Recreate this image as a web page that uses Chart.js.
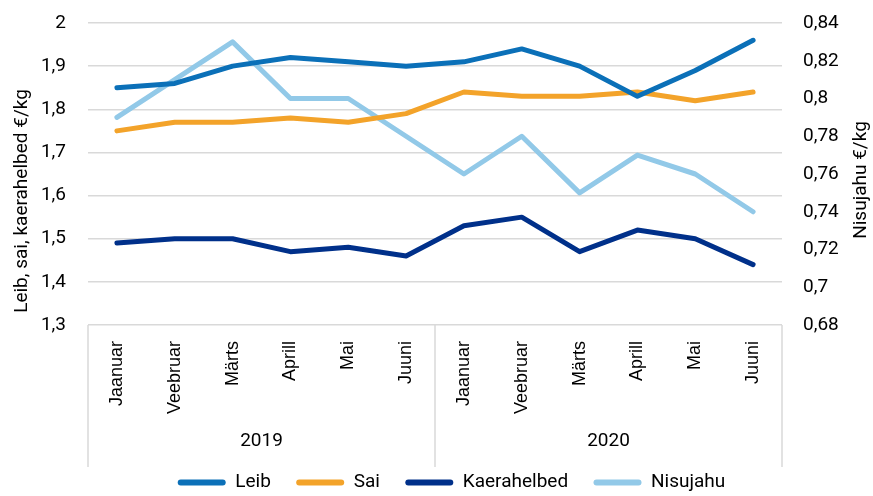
<!DOCTYPE html>
<html>
<head>
<meta charset="utf-8">
<script src="https://cdn.jsdelivr.net/npm/chart.js@4.4.1/dist/chart.umd.min.js"></script>
<style>
  html, body { margin: 0; padding: 0; background: #fff; }
  #wrap { width: 873px; height: 496px; }
</style>
</head>
<body>
<div id="wrap"><canvas id="chart" width="873" height="496"></canvas></div>
<script>
// categories
const months = ['Jaanuar', 'Veebruar', 'Märts', 'Aprill', 'Mai', 'Juuni',
                'Jaanuar', 'Veebruar', 'Märts', 'Aprill', 'Mai', 'Juuni'];
const years = ['2019', '2020'];

// series (€/kg)
const leib = [1.85, 1.86, 1.90, 1.92, 1.91, 1.90, 1.91, 1.94, 1.90, 1.83, 1.89, 1.96];
const sai = [1.75, 1.77, 1.77, 1.78, 1.77, 1.79, 1.84, 1.83, 1.83, 1.84, 1.82, 1.84];
const kaerahelbed = [1.49, 1.50, 1.50, 1.47, 1.48, 1.46, 1.53, 1.55, 1.47, 1.52, 1.50, 1.44];
const nisujahu = [0.79, 0.81, 0.83, 0.80, 0.80, 0.78, 0.76, 0.78, 0.75, 0.77, 0.76, 0.74];

const leftTitle = 'Leib, sai, kaerahelbed €/kg';
const rightTitle = 'Nisujahu €/kg';

const narrow = "Roboto, sans-serif";
const fontSize = 19;

function comma(v, dec) {
    const m = Math.pow(10, dec);
    return String(Math.round(v * m) / m).replace('.', ',');
}

// separators for the two-level category axis + both axis titles (read bottom to top)
const extras = {
    id: 'extras',
    beforeInit(chart) {
        const fit = chart.legend.fit;
        chart.legend.fit = function() {
            fit.call(this);
            this.height -= 6;
        };
    },
    afterLayout(chart) {
        // legend row sits a bit right of centre in the original
        chart.legend.left += 30;
    },
    afterDraw(chart) {
        const ctx = chart.ctx;
        const area = chart.chartArea;
        const x = chart.scales.x;
        const x2 = chart.scales.x2;
        const mid = (x.getPixelForValue(5) + x.getPixelForValue(6)) / 2;
        ctx.save();
        ctx.strokeStyle = '#d9d9d9';
        ctx.lineWidth = 1.5;
        [area.left, mid, area.right].forEach(function(px) {
            ctx.beginPath();
            ctx.moveTo(px, area.bottom);
            ctx.lineTo(px, x2.bottom);
            ctx.stroke();
        });

        ctx.fillStyle = '#000';
        ctx.font = fontSize + 'px ' + narrow;
        ctx.textAlign = 'center';
        ctx.textBaseline = 'middle';
        ctx.save();
        ctx.translate(22, 201);
        ctx.rotate(-Math.PI / 2);
        ctx.fillText(leftTitle, 0, 0);
        ctx.restore();
        ctx.save();
        ctx.translate(861, 180);
        ctx.rotate(-Math.PI / 2);
        ctx.fillText(rightTitle, 0, 0);
        ctx.restore();
        ctx.restore();
    }
};

function ds(label, data, color, axis) {
    return {
        label: label,
        data: data,
        borderColor: color,
        backgroundColor: color,
        borderWidth: 5,
        pointRadius: 0,
        tension: 0,
        borderCapStyle: 'round',
        borderJoinStyle: 'round',
        yAxisID: axis
    };
}

function fixY(width) {
    return function(s) {
        s.width = width;
        s.paddingTop = 0;
        s.paddingBottom = 0;
    };
}

new Chart('chart', {
    type: 'line',
    data: {
        labels: months,
        datasets: [
            ds('Leib', leib, '#0b70b8', 'y'),
            ds('Sai', sai, '#f3a32a', 'y'),
            ds('Kaerahelbed', kaerahelbed, '#00308a', 'y'),
            ds('Nisujahu', nisujahu, '#92c9e8', 'y2')
        ]
    },
    options: {
        responsive: false,
        animation: false,
        layout: { padding: { top: 23, left: 0, right: 0, bottom: 0 } },
        plugins: {
            legend: {
                position: 'bottom',
                labels: {
                    boxWidth: 48,
                    boxHeight: 6,
                    padding: 6,
                    useBorderRadius: true,
                    borderRadius: 3,
                    color: '#000',
                    font: { family: narrow, size: fontSize },
                    generateLabels: function(chart) {
                        const items = Chart.defaults.plugins.legend.labels.generateLabels(chart);
                        return items.map(function(it, i) {
                            it.lineWidth = 0;
                            if (i < items.length - 1) it.text = it.text + '\u2002\u2002';
                            return it;
                        });
                    }
                }
            },
            tooltip: { enabled: false }
        },
        scales: {
            x: {
                offset: true,
                grid: { display: false },
                border: { display: false },
                ticks: {
                    maxRotation: 90,
                    minRotation: 90,
                    autoSkip: false,
                    padding: 8,
                    color: '#000',
                    font: { family: "Arial, 'Liberation Sans', sans-serif", size: 18 }
                },
                afterFit: function(s) { s.height = 97; }
            },
            x2: {
                type: 'category',
                labels: years,
                position: 'bottom',
                offset: true,
                grid: { display: false },
                border: { display: false },
                ticks: {
                    color: '#000',
                    padding: 0,
                    font: { family: narrow, size: fontSize }
                },
                afterFit: function(s) { s.height = 45; }
            },
            y: {
                position: 'left',
                min: 1.3,
                max: 2,
                grid: { color: '#d9d9d9', lineWidth: 1.5, drawTicks: false },
                border: { display: false },
                ticks: {
                    stepSize: 0.1,
                    padding: 22,
                    color: '#000',
                    font: { family: narrow, size: fontSize },
                    callback: function(v) { return comma(v, 1); }
                },
                afterFit: fixY(88)
            },
            y2: {
                position: 'right',
                min: 0.68,
                max: 0.84,
                grid: { display: false, drawTicks: false },
                border: { display: false },
                ticks: {
                    stepSize: 0.02,
                    padding: 21,
                    color: '#000',
                    font: { family: narrow, size: fontSize },
                    callback: function(v) { return comma(v, 2); }
                },
                afterFit: fixY(91)
            }
        }
    },
    plugins: [extras]
});
</script>
</body>
</html>
